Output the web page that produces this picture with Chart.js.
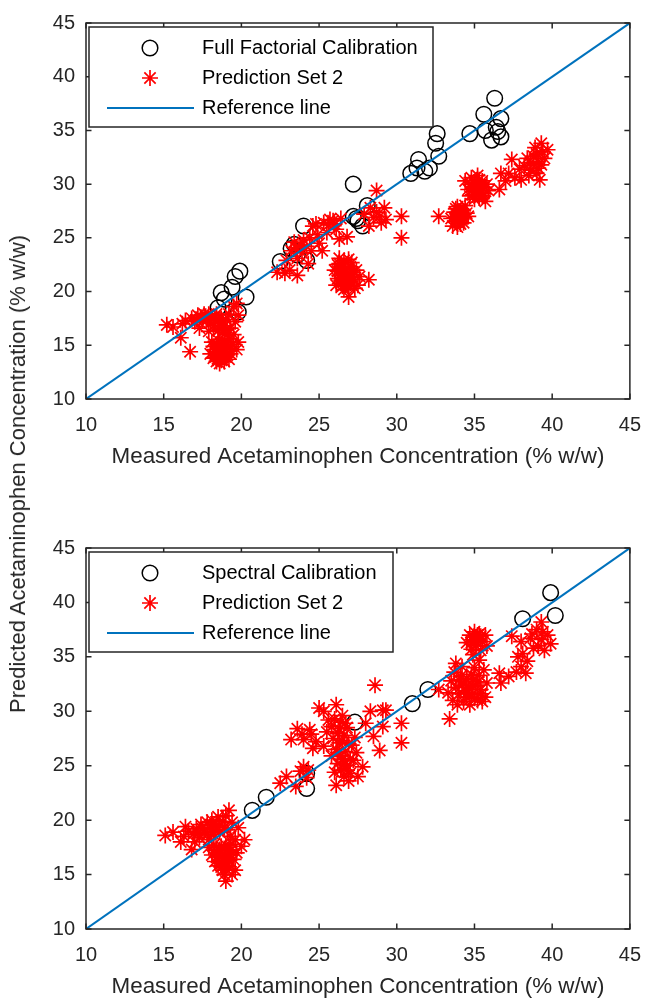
<!DOCTYPE html>
<html>
<head>
<meta charset="utf-8">
<script src="https://cdn.jsdelivr.net/npm/chart.js@4.4.1/dist/chart.umd.min.js"></script>
<style>
  html, body { margin: 0; padding: 0; background: #ffffff; }
  #fig { position: relative; width: 655px; height: 998px; overflow: hidden; background: #ffffff; }
  #fig canvas { position: absolute; left: 0; top: 0; }
  #ylab {
    position: absolute; left: 18px; top: 474px;
    font: 22px "Liberation Sans", Arial, Helvetica, sans-serif; color: #262626;
    white-space: nowrap; transform: translate(-50%, -50%) rotate(-90deg);
  }
</style>
</head>
<body>
<div id="fig">
  <canvas id="topPlot" width="655" height="998"></canvas>
  <canvas id="bottomPlot" width="655" height="998"></canvas>
  <div id="ylab"></div>
</div>
<script>
// ---- data -------------------------------------------------------------
const axisTicks = [10, 15, 20, 25, 30, 35, 40, 45];
const xTitle = 'Measured Acetaminophen Concentration (% w/w)';
const yTitle = 'Predicted Acetaminophen Concentration (% w/w)';
const topNames = ['Full Factorial Calibration', 'Prediction Set 2', 'Reference line'];
const bottomNames = ['Spectral Calibration', 'Prediction Set 2', 'Reference line'];
const referenceLine = [[10, 10], [45, 45]];

// [measured, predicted]
const fullFactorialCal = [
  [18.5, 18.5], [18.7, 19.9], [18.9, 19.3], [19.4, 20.4], [19.6, 21.4], [19.9, 21.9], [20.3, 19.5], [19.8, 18.1],
  [22.5, 22.8], [23.2, 24.0], [23.6, 23.4], [24.2, 22.9], [23.4, 24.4], [24.0, 26.1],
  [27.2, 30.0], [27.2, 27.0], [27.5, 26.6], [27.8, 26.1], [28.1, 28.0], [27.4, 26.8],
  [30.9, 31.0], [31.3, 31.5], [31.4, 32.3], [31.8, 31.2], [32.1, 31.5], [32.5, 33.8], [32.6, 34.7], [32.7, 32.6],
  [34.7, 34.7], [35.6, 36.5], [35.7, 35.0], [36.3, 38.0], [36.4, 35.3], [36.5, 34.9], [36.1, 34.1], [36.7, 34.4], [36.7, 36.1]
];

const topPrediction = [
  [15.2, 16.9], [15.6, 16.7], [16.1, 15.7], [16.7, 14.4], [16.4, 17.3], [16.8, 17.5], [17.0, 17.2], [17.2, 17.8],
  [17.4, 17.6], [17.6, 17.9], [17.8, 17.4], [17.9, 17.9], [18.0, 17.1], [18.1, 17.6], [18.2, 16.8], [18.3, 17.3],
  [18.4, 17.9], [18.5, 16.4], [18.6, 17.0], [18.7, 17.5], [18.8, 16.2], [18.9, 16.8], [19.0, 17.4], [19.1, 16.0],
  [19.2, 17.9], [19.3, 16.6], [19.5, 18.6], [19.7, 18.9], [19.8, 17.8], [19.6, 17.2], [17.3, 16.6], [17.9, 16.3], [16.2, 17.0],
  [17.1, 17.4], [17.5, 17.3], [17.7, 17.7], [18.3, 17.6], [18.8, 17.3], [19.0, 16.5], [18.6, 16.5],
  [18.0, 14.2], [18.2, 13.8], [18.3, 14.6], [18.4, 13.5], [18.5, 14.1], [18.6, 14.9], [18.7, 13.6], [18.8, 14.4],
  [18.9, 15.3], [19.0, 13.9], [19.1, 14.7], [19.2, 15.6], [19.3, 14.2], [18.4, 15.1], [18.6, 13.3], [18.9, 13.5],
  [19.0, 15.0], [18.2, 14.9], [18.5, 15.5], [19.4, 15.1], [19.7, 14.6], [19.8, 15.3], [19.5, 16.0], [19.2, 13.7],
  [18.3, 13.9], [18.6, 14.5], [18.8, 13.9], [19.0, 14.4], [18.5, 13.7], [18.7, 15.1], [19.1, 14.1], [18.4, 14.4],
  [18.9, 14.8], [19.3, 14.9], [18.1, 15.3],
  [22.3, 21.8], [22.8, 21.7], [23.1, 22.0], [23.6, 21.5], [23.4, 24.6], [24.0, 24.8], [23.6, 23.1], [23.9, 23.6],
  [24.2, 24.2], [24.5, 23.8], [23.2, 23.8], [24.6, 26.1], [25.3, 26.4], [25.7, 26.7], [25.2, 23.8], [26.1, 25.8],
  [26.3, 24.9], [26.8, 25.1], [24.9, 25.3], [25.5, 25.5], [25.9, 26.6], [26.4, 26.8], [25.0, 24.5], [24.3, 22.6],
  [22.9, 22.9], [24.8, 26.3], [23.8, 24.3], [23.5, 24.1], [24.4, 25.0], [25.6, 26.2], [26.0, 26.3],
  [26.0, 22.0], [26.2, 21.2], [26.3, 22.6], [26.4, 20.8], [26.5, 21.7], [26.6, 22.9], [26.7, 21.0], [26.8, 22.2],
  [26.9, 20.5], [27.0, 21.6], [27.1, 22.7], [27.2, 21.1], [27.3, 20.3], [26.1, 20.6], [26.3, 23.1], [26.6, 20.2],
  [26.9, 23.0], [27.4, 22.0], [26.5, 21.3], [26.8, 21.5], [27.0, 20.9], [27.6, 21.4], [28.2, 21.1], [26.9, 19.5],
  [27.5, 20.6], [26.2, 21.9], [26.3, 21.5], [26.5, 22.3], [26.7, 21.8], [26.9, 21.2], [27.1, 21.4], [26.4, 22.0],
  [26.6, 21.1], [26.8, 20.8], [27.0, 22.3], [26.7, 20.6], [26.5, 20.5], [27.2, 21.8], [26.2, 22.5],
  [28.7, 29.4], [28.7, 27.4], [28.2, 26.1], [29.0, 26.4], [29.2, 27.8], [28.5, 26.9], [27.9, 27.2], [28.9, 27.0],
  [29.3, 26.7], [28.3, 27.8], [30.3, 27.0], [30.3, 25.0],
  [32.7, 27.0], [33.5, 26.8], [33.7, 27.4], [33.8, 26.5], [33.9, 27.9], [34.0, 27.1], [34.1, 26.3], [34.2, 27.6],
  [34.3, 26.9], [34.4, 28.0], [34.5, 27.3], [33.6, 26.1], [34.0, 26.6], [33.8, 27.7], [34.3, 26.4], [34.6, 27.0],
  [33.9, 26.0], [34.1, 27.3], [33.9, 27.2], [34.1, 26.8], [34.2, 27.0], [33.7, 26.9], [34.0, 27.5], [34.3, 27.2],
  [34.4, 30.3], [34.6, 29.5], [34.8, 30.6], [34.9, 29.0], [35.0, 30.1], [35.1, 29.4], [35.2, 30.8], [35.3, 28.7],
  [35.4, 29.8], [35.5, 30.3], [35.6, 29.1], [35.7, 28.4], [35.0, 28.6], [34.7, 28.9], [35.8, 30.0], [35.3, 30.4],
  [35.9, 29.4], [34.9, 29.8], [35.5, 28.9], [35.1, 29.9], [35.2, 29.6], [35.0, 29.3], [35.3, 29.9], [35.4, 29.2],
  [34.8, 30.0], [35.6, 29.7],
  [36.6, 29.5], [36.7, 31.0], [37.0, 30.3], [37.4, 32.3], [37.2, 31.0], [37.6, 30.6], [37.9, 31.4], [38.0, 30.4],
  [38.2, 31.7], [38.4, 32.4], [38.6, 31.3], [38.8, 32.6], [39.0, 31.0], [39.2, 30.4], [39.3, 31.8], [39.3, 33.8],
  [39.7, 33.2], [39.0, 32.8], [38.9, 33.4], [39.5, 32.4], [38.5, 30.8], [39.1, 32.1], [38.8, 31.9], [39.1, 31.5],
  [38.6, 32.0], [39.4, 33.0]
];

const spectralCal = [
  [20.7, 20.9], [21.6, 22.1], [24.2, 24.3], [24.2, 22.9], [27.3, 29.0],
  [31.0, 30.7], [32.0, 32.0], [38.1, 38.5], [39.9, 40.9], [40.2, 38.8]
];

const bottomPrediction = [
  [15.1, 18.6], [15.6, 18.9], [16.1, 18.0], [16.4, 19.4], [16.8, 17.3], [16.9, 18.7], [17.1, 19.2], [17.3, 18.4],
  [17.4, 19.6], [17.6, 18.9], [17.8, 19.8], [17.9, 18.2], [18.0, 19.3], [18.1, 20.0], [18.2, 18.7], [18.4, 19.5],
  [18.5, 20.3], [18.6, 18.9], [18.8, 19.9], [19.0, 20.4], [19.1, 19.1], [19.2, 20.9], [19.3, 18.5], [16.6, 19.0],
  [17.0, 18.0], [19.4, 19.8], [19.6, 18.2], [20.0, 17.6], [20.2, 18.2], [19.8, 19.3],
  [17.5, 19.2], [17.8, 18.7], [18.1, 19.6], [18.3, 19.0], [18.6, 19.5], [18.9, 19.3], [17.2, 18.8], [16.3, 18.5],
  [17.9, 17.5], [18.1, 16.8], [18.2, 17.7], [18.3, 16.2], [18.4, 17.2], [18.5, 15.8], [18.6, 16.6], [18.7, 17.6],
  [18.8, 15.4], [18.9, 16.9], [19.0, 16.1], [19.1, 17.3], [19.2, 15.7], [19.3, 16.8], [19.4, 17.8], [19.5, 16.4],
  [18.5, 17.0], [19.0, 17.7], [18.7, 16.0], [19.6, 15.4], [19.0, 14.4], [19.4, 15.0], [19.7, 17.0], [18.9, 15.0],
  [18.6, 17.3], [18.8, 16.5], [19.0, 16.6], [19.2, 16.3], [18.9, 17.4], [19.1, 15.8], [18.7, 15.7], [19.3, 17.2], [18.4, 16.6],
  [22.5, 23.4], [22.9, 24.0], [23.5, 23.1], [23.8, 24.5], [24.0, 24.9], [23.2, 27.4], [23.6, 28.4], [24.0, 27.4],
  [24.4, 28.3], [24.6, 26.6], [23.9, 27.9], [24.2, 23.9], [24.3, 24.6], [24.8, 27.2], [24.5, 27.9],
  [25.0, 30.3], [25.3, 30.0], [26.1, 30.6], [25.6, 29.2], [25.3, 26.8], [25.5, 28.1], [25.8, 28.6], [25.9, 27.5],
  [26.0, 29.3], [26.1, 26.5], [26.2, 28.0], [26.3, 27.1], [26.4, 29.0], [26.5, 25.6], [26.6, 27.8], [26.7, 26.3],
  [26.8, 28.5], [26.2, 25.2], [26.4, 24.6], [26.6, 24.0], [26.8, 25.0], [27.0, 24.3], [27.1, 26.9], [27.2, 25.5],
  [27.3, 27.6], [26.1, 23.2], [27.5, 24.0], [27.8, 24.9], [26.9, 23.6], [26.0, 24.4], [25.8, 25.9], [27.4, 26.2],
  [26.3, 28.4], [26.5, 27.3], [26.7, 28.9], [26.9, 27.0], [26.4, 25.9], [26.6, 25.2], [26.8, 24.6], [27.0, 25.6],
  [26.2, 26.2], [26.5, 29.6],
  [28.6, 32.4], [28.3, 30.0], [29.1, 30.1], [29.1, 28.6], [28.9, 26.4], [28.5, 27.7], [29.3, 30.1], [30.3, 28.9],
  [30.3, 27.1], [28.0, 28.9],
  [33.4, 29.3], [32.7, 32.0], [33.3, 31.7], [33.5, 32.8], [33.6, 31.0], [33.7, 33.6], [33.8, 32.2], [33.9, 30.6],
  [34.0, 31.6], [34.1, 33.2], [34.2, 32.4], [34.3, 30.9], [34.4, 31.9], [34.5, 33.0], [34.6, 32.2], [34.7, 30.6],
  [34.8, 31.5], [34.9, 32.9], [35.0, 31.2], [35.1, 32.4], [35.2, 31.0], [35.3, 33.3], [35.4, 32.0], [35.5, 30.9],
  [35.7, 31.3], [35.8, 32.6], [34.2, 34.1], [35.0, 34.0], [35.6, 33.8], [33.8, 34.4],
  [34.3, 32.6], [34.6, 31.7], [34.9, 32.3], [35.2, 32.7], [34.5, 31.3], [34.0, 32.9], [35.4, 31.6], [34.8, 33.4],
  [34.5, 36.3], [34.7, 37.0], [34.8, 35.7], [34.9, 36.8], [35.0, 37.3], [35.1, 36.0], [35.2, 36.6], [35.3, 37.1],
  [35.4, 35.6], [35.5, 36.4], [35.7, 37.0], [35.8, 36.0], [34.9, 35.2], [35.3, 34.7],
  [35.0, 36.5], [35.2, 37.0], [35.4, 36.9], [35.1, 36.4], [34.8, 36.3],
  [36.6, 33.5], [36.7, 32.6], [37.4, 36.9], [38.0, 36.4], [37.8, 35.0], [37.7, 33.6], [38.3, 33.5], [39.3, 38.2],
  [39.3, 36.6], [39.9, 36.2], [39.0, 37.5], [39.7, 37.0], [38.1, 35.3], [38.6, 36.7], [38.4, 34.6], [38.8, 35.8],
  [39.1, 36.0], [39.5, 35.6], [38.0, 34.1], [37.2, 33.2], [39.4, 37.3], [38.7, 37.1]
];

// ---- drawing ----------------------------------------------------------
const FONT = '"Liberation Sans", Arial, Helvetica, sans-serif';
const AXIS_COLOR = '#262626';
const PAGE_W = 655, PAGE_H = 998;

const toXY = pts => pts.map(([x, y]) => ({ x, y }));

// Closed box with inward tick marks on all four sides.
const framePlugin = {
  id: 'frame',
  afterDatasetsDraw(chart) {
    const { ctx, chartArea: a, scales: { x, y } } = chart;
    const t = 5.5;
    ctx.save();
    ctx.strokeStyle = AXIS_COLOR;
    ctx.lineWidth = 1.5;
    ctx.beginPath();
    axisTicks.forEach(v => {
      const px = x.getPixelForValue(v);
      ctx.moveTo(px, a.bottom); ctx.lineTo(px, a.bottom - t);
      ctx.moveTo(px, a.top); ctx.lineTo(px, a.top + t);
      const py = y.getPixelForValue(v);
      ctx.moveTo(a.left, py); ctx.lineTo(a.left + t, py);
      ctx.moveTo(a.right, py); ctx.lineTo(a.right - t, py);
    });
    ctx.stroke();
    ctx.strokeRect(a.left, a.top, a.right - a.left, a.bottom - a.top);
    ctx.restore();
  }
};

// Boxed legend in the upper-left corner of the plot area.
const boxLegendPlugin = {
  id: 'boxLegend',
  afterDraw(chart, args, opts) {
    const { ctx, chartArea: a } = chart;
    const left = a.left + 3, top = a.top + 4, w = opts.width, h = 100;
    ctx.save();
    ctx.fillStyle = '#ffffff';
    ctx.fillRect(left, top, w, h);
    ctx.strokeStyle = AXIS_COLOR;
    ctx.lineWidth = 1.5;
    ctx.strokeRect(left, top, w, h);
    chart.data.datasets.forEach((ds, i) => {
      const cy = top + 21 + i * 30;
      ctx.strokeStyle = ds.borderColor;
      ctx.lineWidth = ds.borderWidth;
      if (ds.type === 'line') {
        ctx.beginPath();
        ctx.moveTo(left + 18, cy);
        ctx.lineTo(left + 105, cy);
        ctx.stroke();
      } else {
        ctx.fillStyle = 'rgba(0,0,0,0)';
        Chart.helpers.drawPoint(ctx, {
          pointStyle: ds.pointStyle, radius: ds.pointRadius, rotation: 0, borderWidth: ds.borderWidth
        }, left + 61, cy);
      }
      ctx.fillStyle = '#000000';
      ctx.font = '20px ' + FONT;
      ctx.textAlign = 'left';
      ctx.textBaseline = 'middle';
      ctx.fillText(ds.label, left + 113, cy);
    });
    ctx.restore();
  }
};

function buildPlot(canvasId, names, calPts, predPts, area) {
  return new Chart(document.getElementById(canvasId), {
    type: 'scatter',
    data: {
      datasets: [
        { label: names[0], data: toXY(calPts), pointStyle: 'circle', pointRadius: 7.8, pointHoverRadius: 7.8,
          borderColor: '#000000', backgroundColor: 'rgba(0,0,0,0)', borderWidth: 1.5, order: 3 },
        { label: names[1], data: toXY(predPts), pointStyle: 'star', pointRadius: 8, pointHoverRadius: 8,
          borderColor: '#ff0000', backgroundColor: '#ff0000', borderWidth: 1.7, order: 2 },
        { type: 'line', label: names[2], data: toXY(referenceLine), showLine: true, fill: false,
          borderColor: '#0072bd', borderWidth: 2, pointRadius: 0, order: 1 }
      ]
    },
    options: {
      responsive: false,
      animation: false,
      devicePixelRatio: 1,
      events: [],
      layout: {
        padding: { top: area.top, bottom: PAGE_H - area.bottom - area.xAxisH, left: 0, right: PAGE_W - area.right }
      },
      plugins: {
        legend: { display: false },
        tooltip: { enabled: false },
        boxLegend: { width: area.legendW }
      },
      scales: {
        x: {
          type: 'linear', min: axisTicks[0], max: axisTicks[axisTicks.length - 1],
          afterBuildTicks: s => { s.ticks = axisTicks.map(v => ({ value: v })); },
          grid: { display: false, drawTicks: false },
          border: { display: false },
          ticks: { font: { family: FONT, size: 20 }, color: AXIS_COLOR, padding: 14, maxRotation: 0, autoSkip: false },
          title: { display: true, text: xTitle, font: { family: FONT, size: 22.4 }, color: AXIS_COLOR,
                   padding: { top: 0, bottom: area.titlePad } },
          afterFit: s => { s.height = area.xAxisH; }
        },
        y: {
          type: 'linear', min: axisTicks[0], max: axisTicks[axisTicks.length - 1],
          afterBuildTicks: s => { s.ticks = axisTicks.map(v => ({ value: v })); },
          grid: { display: false, drawTicks: false },
          border: { display: false },
          ticks: { font: { family: FONT, size: 20 }, color: AXIS_COLOR, padding: 11, autoSkip: false },
          afterFit: s => { s.width = area.left; }
        }
      }
    },
    plugins: [framePlugin, boxLegendPlugin]
  });
}

document.getElementById('ylab').textContent = yTitle;

buildPlot('topPlot', topNames, fullFactorialCal, topPrediction,
  { left: 86, right: 637, top: 18, bottom: 399, xAxisH: 71, titlePad: 0, legendW: 344 });
buildPlot('bottomPlot', bottomNames, spectralCal, bottomPrediction,
  { left: 86, right: 637, top: 548, bottom: 929, xAxisH: 69, titlePad: -2, legendW: 304 });
</script>
</body>
</html>
